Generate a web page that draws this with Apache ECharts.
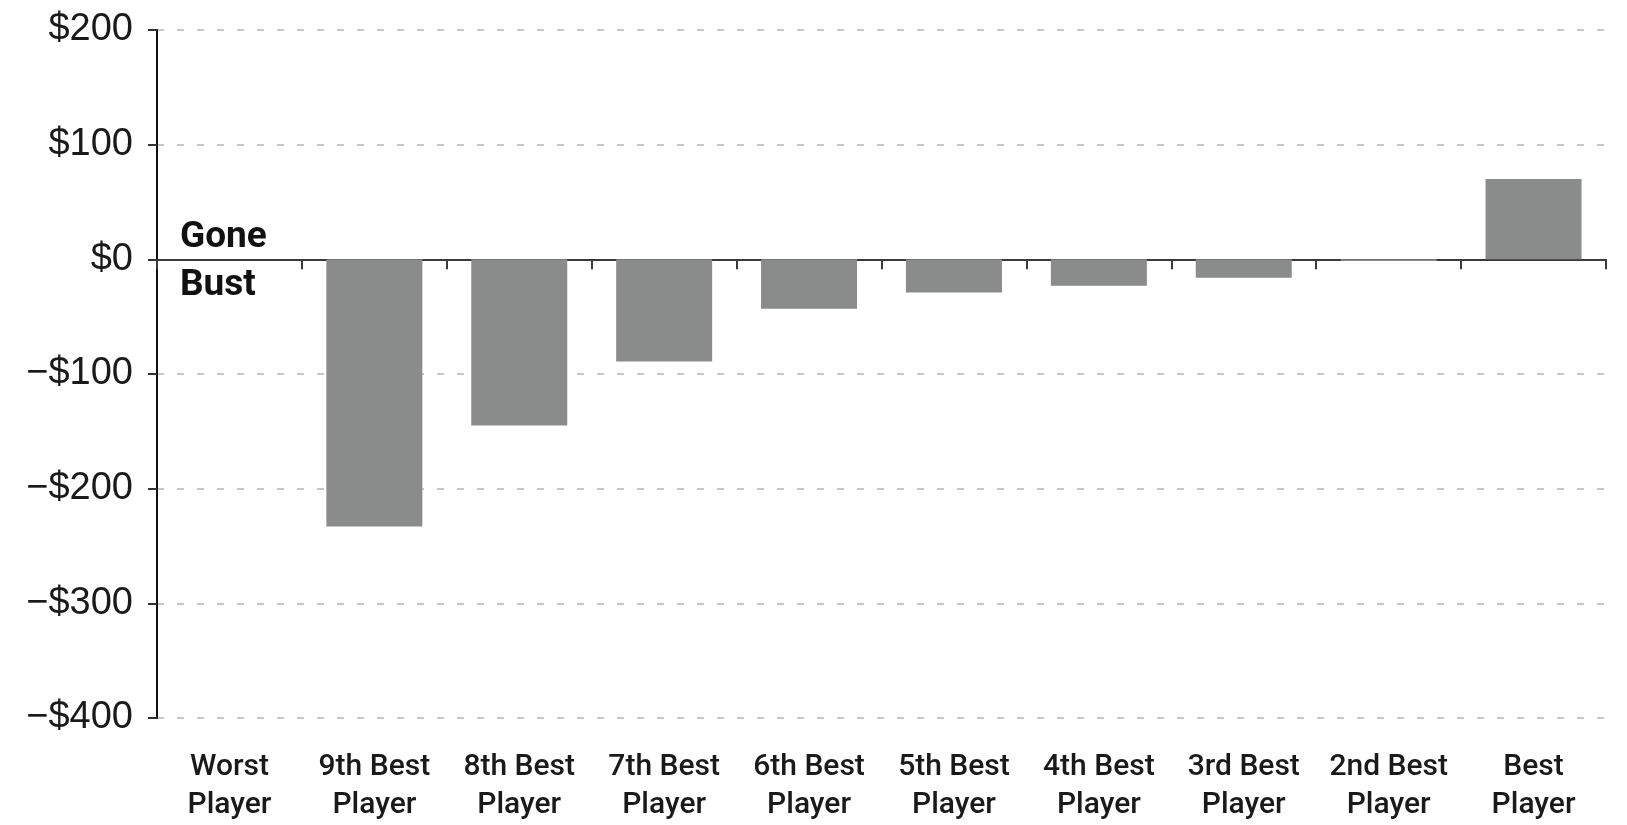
<!DOCTYPE html>
<html>
<head>
<meta charset="utf-8">
<script src="https://cdn.jsdelivr.net/npm/echarts@6/dist/echarts.min.js"></script>
<style>
  html, body { margin: 0; padding: 0; background: #fff; }
  #chart { width: 1627px; height: 825px; }
</style>
</head>
<body>
<div id="chart"></div>
<script>
const categories = ['Worst\nPlayer', '9th Best\nPlayer', '8th Best\nPlayer', '7th Best\nPlayer', '6th Best\nPlayer',
  '5th Best\nPlayer', '4th Best\nPlayer', '3rd Best\nPlayer', '2nd Best\nPlayer', 'Best\nPlayer'];
const winnings = [null, -233, -145, -89, -43, -29, -23, -16, -1.5, 70];
const yTicks = [-400, -300, -200, -100, 0, 100, 200];

function money(v) {
  return (v < 0 ? '\u2212$' : '$') + Math.abs(v);
}

const chart = echarts.init(document.getElementById('chart'));
chart.setOption({
  animation: false,
  backgroundColor: '#fff',
  grid: { left: 157, right: 21, top: 30, bottom: 102, containLabel: false },
  xAxis: [
    {
      type: 'category',
      data: categories,
      position: 'bottom',
      axisLine: { onZero: true, lineStyle: { color: '#3a3a3a', width: 2 } },
      axisTick: { show: true, alignWithLabel: false, length: 10, lineStyle: { color: '#3a3a3a', width: 2 } },
      axisLabel: { show: false },
      splitLine: { show: false }
    },
    {
      type: 'category',
      data: categories,
      position: 'bottom',
      axisLine: { show: false, onZero: false },
      axisTick: { show: false },
      axisLabel: {
        show: true, interval: 0, margin: 30, color: '#1a1a1a',
        fontFamily: "Roboto, 'Liberation Sans', sans-serif", fontWeight: 500,
        fontSize: 30, lineHeight: 38.5
      },
      splitLine: { show: false }
    }
  ],
  yAxis: {
    type: 'value',
    min: yTicks[0],
    max: yTicks[yTicks.length - 1],
    interval: 100,
    axisLine: { show: true, onZero: false, lineStyle: { color: '#111', width: 2 } },
    axisTick: { show: true, length: 9, lineStyle: { color: '#333', width: 2 } },
    axisLabel: {
      margin: 24, color: '#1a1a1a', fontSize: 38,
      fontFamily: "'Liberation Sans', Arial, sans-serif",
      formatter: money
    },
    splitLine: { show: true, lineStyle: { color: '#c6c6c6', width: 2, type: [7, 13] } }
  },
  series: [{
    type: 'bar',
    xAxisIndex: 0,
    data: winnings,
    barWidth: 96,
    itemStyle: { color: '#8a8c8c' }
  }],
  graphic: [
    { type: 'text', left: 180, top: 219, style: { text: 'Gone', fill: '#111', font: "bold 37px Roboto, 'Liberation Sans', sans-serif" } },
    { type: 'text', left: 180, top: 267, style: { text: 'Bust', fill: '#111', font: "bold 37px Roboto, 'Liberation Sans', sans-serif" } }
  ]
});
</script>
</body>
</html>
